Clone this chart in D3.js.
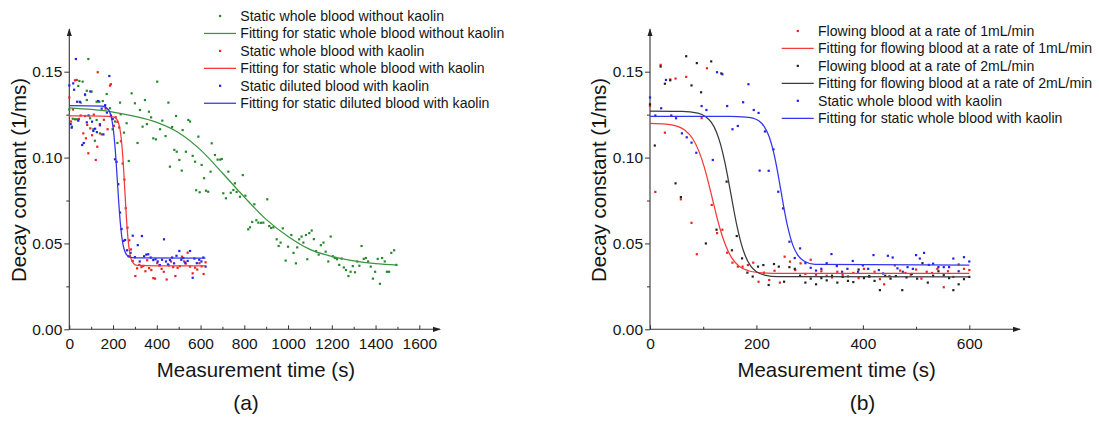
<!DOCTYPE html>
<html>
<head>
<meta charset="utf-8">
<script src="https://cdn.jsdelivr.net/npm/d3@7"></script>
<style>
    body { margin: 0; background: #fff; }
    text { font-family: Arial, "Liberation Sans", sans-serif; fill: #151515; }
</style>
</head>
<body>
<div id="graph"></div>
<script>
// ---- panel (a): measured points [time s, decay constant 1/ms] ----
var wholeNoKaolin = [[0,0.128],[12,0.118],[16,0.1226],[26,0.1223],[34,0.1223],[41,0.1417],[46,0.1446],[52,0.132],[61,0.1442],[72,0.1364],[80,0.1335],[80,0.1389],[87,0.1574],[95,0.1229],[102,0.1384],[110,0.1165],[117,0.1098],[125,0.1219],[125,0.1325],[137,0.1325],[140,0.1141],[153,0.1329],[163,0.130],[171,0.137],[186,0.1287],[198,0.1165],[209,0.121],[220,0.1085],[232,0.132],[235,0.1252],[250,0.1145],[262,0.120],[272,0.098],[285,0.1374],[300,0.1316],[312,0.1085],[323,0.1277],[335,0.118],[346,0.1335],[355,0.1195],[364,0.1267],[374,0.1234],[384,0.1112],[396,0.1106],[402,0.1442],[415,0.1165],[425,0.1215],[440,0.1125],[453,0.132],[460,0.0947],[470,0.1178],[480,0.1045],[488,0.1242],[491,0.1034],[503,0.0986],[514,0.0924],[518,0.116],[533,0.1034],[544,0.1219],[552,0.121],[564,0.101],[575,0.0976],[580,0.081],[590,0.1122],[596,0.0798],[605,0.0957],[616,0.088],[625,0.0807],[635,0.0801],[646,0.0918],[651,0.1083],[666,0.1015],[678,0.0988],[690,0.0988],[697,0.0992],[704,0.0792],[716,0.0763],[727,0.0918],[738,0.0795],[750,0.0811],[757,0.085],[765,0.080],[780,0.0772],[793,0.0898],[805,0.0778],[818,0.0582],[826,0.0594],[836,0.0625],[846,0.0728],[855,0.0635],[864,0.0621],[876,0.062],[887,0.0621],[905,0.0757],[914,0.0601],[923,0.059],[933,0.0594],[948,0.0524],[957,0.0485],[966,0.0505],[976,0.0588],[989,0.040],[1000,0.0481],[1015,0.0549],[1025,0.0445],[1036,0.0384],[1042,0.0477],[1051,0.0524],[1062,0.054],[1070,0.0505],[1082,0.0549],[1088,0.0408],[1097,0.056],[1108,0.0575],[1118,0.0525],[1128,0.0455],[1140,0.0435],[1150,0.049],[1162,0.0505],[1172,0.0452],[1184,0.0395],[1195,0.054],[1205,0.0425],[1214,0.0415],[1224,0.0408],[1234,0.0375],[1245,0.0412],[1255,0.036],[1265,0.0345],[1276,0.031],[1286,0.0335],[1296,0.0368],[1306,0.0332],[1316,0.0395],[1326,0.037],[1336,0.0485],[1346,0.041],[1356,0.0415],[1366,0.0395],[1378,0.0365],[1388,0.0295],[1398,0.0335],[1410,0.041],[1420,0.0265],[1430,0.0415],[1442,0.0395],[1452,0.0335],[1462,0.0335],[1472,0.0445],[1485,0.046],[1495,0.0375]];

var wholeKaolin = [[0,0.135],[8,0.121],[17,0.128],[26,0.145],[34,0.1452],[44,0.1225],[52,0.1245],[64,0.1141],[72,0.1242],[76,0.1112],[82,0.119],[87,0.1025],[96,0.117],[104,0.113],[112,0.125],[121,0.0986],[128,0.1063],[130,0.1497],[140,0.1195],[148,0.1135],[158,0.122],[166,0.1285],[175,0.1165],[186,0.1419],[190,0.1427],[196,0.1225],[204,0.1185],[212,0.1235],[220,0.1208],[228,0.1175],[236,0.1095],[244,0.0965],[252,0.0872],[258,0.0705],[266,0.0592],[274,0.0518],[282,0.0465],[290,0.0398],[302,0.031],[310,0.0355],[320,0.0375],[330,0.0362],[338,0.0369],[348,0.0338],[356,0.0402],[365,0.0356],[375,0.0345],[384,0.0298],[392,0.0295],[402,0.0385],[412,0.0372],[422,0.0352],[432,0.0335],[445,0.029],[455,0.0372],[465,0.0395],[475,0.0362],[485,0.031],[495,0.0358],[505,0.0368],[515,0.0423],[525,0.0395],[532,0.0382],[541,0.0446],[552,0.0365],[564,0.0326],[575,0.0359],[585,0.0348],[595,0.0385],[605,0.0367],[614,0.0322],[623,0.039]];

var dilutedKaolin = [[0,0.142],[6,0.1195],[11,0.1174],[18,0.1432],[22,0.1395],[30,0.1574],[36,0.1325],[41,0.1215],[48,0.1325],[59,0.1073],[66,0.1085],[72,0.1368],[80,0.1205],[88,0.1245],[96,0.1385],[104,0.1209],[110,0.1155],[118,0.1168],[126,0.1148],[132,0.1329],[140,0.1188],[148,0.1285],[156,0.1135],[164,0.1305],[172,0.1262],[183,0.1475],[190,0.1245],[198,0.1225],[209,0.099],[216,0.0975],[224,0.0845],[232,0.068],[239,0.0584],[248,0.0515],[255,0.052],[264,0.046],[272,0.0425],[280,0.0445],[290,0.0545],[300,0.042],[313,0.049],[322,0.0395],[332,0.0543],[342,0.0425],[352,0.0435],[361,0.0437],[372,0.0418],[384,0.0403],[394,0.0408],[404,0.0395],[414,0.0374],[424,0.0405],[433,0.0524],[442,0.0395],[451,0.0378],[460,0.0403],[470,0.0418],[479,0.0384],[490,0.0428],[503,0.0456],[512,0.0405],[521,0.0415],[530,0.0388],[541,0.0398],[552,0.0456],[564,0.030],[572,0.0412],[583,0.0385],[594,0.0405],[604,0.0395],[613,0.0418],[623,0.0365]];

// fitted curves
var wholeNoKaolinFit = [[0,0.129],[100,0.128],[200,0.1265],[300,0.124],[400,0.1205],[500,0.1145],[600,0.1045],[700,0.091],[800,0.077],[900,0.064],[1000,0.054],[1100,0.0465],[1200,0.0425],[1300,0.0398],[1400,0.0382],[1500,0.0374]];
var wholeKaolinFit = [[0,0.1243],[150,0.1242],[200,0.1237],[215,0.1226],[225,0.1201],[232,0.1162],[238,0.1104],[244,0.1015],[249,0.0917],[254,0.0805],[259,0.0693],[264,0.0595],[270,0.0506],[276,0.0448],[283,0.0409],[293,0.0384],[310,0.0372],[400,0.037],[622,0.037]];
var dilutedKaolinFit = [[0,0.1302],[150,0.1299],[180,0.1277],[190,0.1246],[198,0.1195],[204,0.1133],[210,0.1046],[215,0.0956],[220,0.0858],[225,0.0759],[230,0.0669],[236,0.0583],[242,0.052],[250,0.0469],[260,0.0438],[275,0.0421],[300,0.0416],[622,0.0415]];

// ---- panel (b) ----
var flow1 = [[0,0.130],[10,0.080],[20,0.154],[28,0.1145],[38,0.1455],[48,0.146],[58,0.0757],[68,0.147],[78,0.062],[88,0.0437],[97,0.123],[107,0.152],[116,0.0724],[126,0.056],[136,0.058],[145,0.0446],[155,0.0388],[165,0.0365],[174,0.0365],[184,0.0374],[194,0.0388],[204,0.0277],[214,0.033],[224,0.0287],[234,0.0341],[244,0.0272],[253,0.0423],[263,0.0394],[273,0.0345],[283,0.0384],[292,0.0322],[302,0.0405],[312,0.0318],[322,0.0338],[332,0.0312],[342,0.0302],[352,0.0335],[362,0.0318],[372,0.0308],[382,0.0328],[392,0.0298],[402,0.0352],[412,0.0305],[422,0.0335],[432,0.0292],[440,0.0262],[450,0.031],[460,0.0372],[470,0.0342],[480,0.0328],[490,0.0318],[500,0.0348],[510,0.0295],[520,0.0335],[530,0.0328],[540,0.0352],[552,0.0245],[560,0.0338],[570,0.0305],[580,0.0378],[590,0.0352],[600,0.0345]];

var flow2 = [[0,0.131],[9,0.107],[20,0.153],[28,0.143],[38,0.145],[48,0.085],[58,0.077],[68,0.159],[78,0.142],[88,0.155],[96,0.138],[105,0.050],[115,0.156],[125,0.058],[134,0.149],[144,0.086],[154,0.046],[163,0.0543],[173,0.0413],[183,0.033],[193,0.0307],[203,0.0365],[213,0.0374],[223,0.0258],[233,0.038],[242,0.0365],[252,0.0277],[262,0.0362],[272,0.0352],[282,0.0312],[292,0.0272],[302,0.0295],[312,0.0262],[322,0.0298],[332,0.0285],[342,0.0312],[352,0.0272],[362,0.0305],[372,0.0282],[382,0.0275],[392,0.0348],[402,0.0298],[412,0.031],[422,0.0282],[432,0.0228],[442,0.0312],[452,0.0295],[462,0.031],[474,0.0228],[482,0.0302],[492,0.0322],[502,0.0295],[512,0.0385],[522,0.0272],[532,0.0312],[542,0.0338],[552,0.0315],[562,0.0298],[570,0.0228],[580,0.0262],[590,0.0292],[600,0.0305]];

var staticWhole = [[0,0.135],[10,0.1245],[21,0.1287],[30,0.1452],[40,0.1245],[49,0.1229],[60,0.1141],[69,0.1118],[78,0.1087],[87,0.1028],[97,0.130],[106,0.1277],[118,0.0986],[126,0.1497],[136,0.1485],[145,0.130],[155,0.1165],[165,0.1184],[175,0.1322],[185,0.1427],[195,0.1277],[204,0.126],[206,0.0924],[216,0.1152],[223,0.0923],[232,0.1048],[241,0.0801],[250,0.0704],[262,0.051],[272,0.0415],[282,0.0471],[292,0.0385],[302,0.0358],[312,0.0342],[322,0.0352],[332,0.0385],[341,0.0438],[351,0.0368],[361,0.0335],[371,0.0352],[381,0.0398],[391,0.0335],[400,0.0372],[410,0.0352],[420,0.0432],[430,0.0345],[438,0.0325],[447,0.0428],[456,0.0418],[465,0.0355],[475,0.0335],[484,0.0362],[494,0.0352],[500,0.0432],[507,0.0412],[515,0.0445],[524,0.0375],[532,0.0382],[542,0.0362],[552,0.0362],[562,0.0362],[570,0.0412],[580,0.0338],[590,0.042],[600,0.0395]];

var flow1Fit = [[0,0.1199],[30,0.1195],[50,0.1183],[65,0.1161],[80,0.1111],[92,0.1036],[102,0.0944],[110,0.0851],[117,0.0763],[124,0.0674],[132,0.0581],[142,0.0489],[154,0.0414],[168,0.0366],[185,0.0341],[210,0.0329],[250,0.0325],[600,0.0325]];
var flow2Fit = [[0,0.127],[60,0.1269],[90,0.1259],[105,0.1237],[115,0.1206],[125,0.1148],[133,0.1072],[140,0.0982],[146,0.0889],[152,0.0788],[158,0.0686],[164,0.0593],[171,0.0503],[179,0.0428],[189,0.0369],[200,0.0335],[215,0.0316],[240,0.0307],[600,0.0305]];
var staticWholeFit = [[0,0.124],[150,0.124],[180,0.1236],[195,0.1228],[205,0.1213],[215,0.1179],[224,0.1121],[232,0.1034],[239,0.093],[246,0.0807],[253,0.0684],[260,0.058],[268,0.0493],[278,0.043],[290,0.0396],[310,0.0378],[600,0.0374]];

// axis ticks
var yMajor = [0, 0.05, 0.10, 0.15];
var yMinor = [0.025, 0.075, 0.125];
var xMajorA = [0, 200, 400, 600, 800, 1000, 1200, 1400, 1600];
var xMinorA = [100, 300, 500, 700, 900, 1100, 1300, 1500];
var xMajorB = [0, 200, 400, 600];
var xMinorB = [100, 300, 500];

const width = 1099;
const height = 421;
var svg = d3.select("#graph").append("svg")
    .attr("width", width).attr("height", height);

svg.append("defs").append("marker")
    .attr("id", "arrow")
    .attr("viewBox", "0 -3 8 6")
    .attr("refX", 7).attr("refY", 0)
    .attr("markerUnits", "userSpaceOnUse")
    .attr("markerWidth", 8).attr("markerHeight", 6)
    .attr("orient", "auto")
    .append("path")
    .attr("d", "M0,-2.6L8,0L0,2.6Z")
    .attr("fill", "#222");

var panels = [
    {
        left: 69.3, xEnd: 419.3, arrowX: 440, domain: [0, 1600],
        major: xMajorA, minor: xMinorA, label: "(a)", labelX: 246,
        titleX: 256, yTitleX: 25.5,
        legend: {x: 204, y: 16},
        series: [
            {name: "Static whole blood without kaolin", pts: wholeNoKaolin, color: "#23892a"},
            {name: "Fitting for static whole blood without kaolin", fit: wholeNoKaolinFit, color: "#3b9441"},
            {name: "Static whole blood with kaolin", pts: wholeKaolin, color: "#ee2020"},
            {name: "Fitting for static whole blood with kaolin", fit: wholeKaolinFit, color: "#f23a3a"},
            {name: "Static diluted blood with kaolin", pts: dilutedKaolin, color: "#2020e8"},
            {name: "Fitting for static diluted blood with kaolin", fit: dilutedKaolinFit, color: "#3434ee"}
        ]
    },
    {
        left: 650, xEnd: 969.3, arrowX: 1020, domain: [0, 600],
        major: xMajorB, minor: xMinorB, label: "(b)", labelX: 862.5,
        titleX: 836.7, yTitleX: 606.2,
        legend: {x: 781.7, y: 31},
        series: [
            {name: "Flowing blood at a rate of 1mL/min", pts: flow1, color: "#ee2020"},
            {name: "Fitting for flowing blood at a rate of 1mL/min", fit: flow1Fit, color: "#f23a3a"},
            {name: "Flowing blood at a rate of 2mL/min", pts: flow2, color: "#222222"},
            {name: "Fitting for flowing blood at a rate of 2mL/min", fit: flow2Fit, color: "#3a3a3a"},
            {name: "Static whole blood with kaolin", pts: staticWhole, color: "#2020e8"},
            {name: "Fitting for static whole blood with kaolin", fit: staticWholeFit, color: "#3434ee"}
        ]
    }
];

var yBottom = 329.3, yTop = 71.7, yArrow = 29.3;

panels.forEach(function (p) {
    var x = d3.scaleLinear().domain(p.domain).range([p.left, p.xEnd]);
    var y = d3.scaleLinear().domain([0, 0.15]).range([yBottom, yTop]);
    var g = svg.append("g");

    // y axis
    var yAxis = g.append("g").attr("transform", "translate(" + p.left + ",0)")
        .call(d3.axisLeft(y).tickValues(yMajor).tickSize(5).tickPadding(2)
            .tickFormat(d3.format(".2f")));
    g.append("g").attr("transform", "translate(" + p.left + ",0)")
        .call(d3.axisLeft(y).tickValues(yMinor).tickSize(3).tickFormat(""))
        .call(function (s) { s.select(".domain").remove(); });

    // x axis (ticks point up into the plot)
    var xAxis = g.append("g").attr("transform", "translate(0," + yBottom + ")")
        .call(d3.axisBottom(x).tickValues(p.major).tickSize(-4).tickPadding(8.4)
            .tickFormat(d3.format("d")));
    g.append("g").attr("transform", "translate(0," + yBottom + ")")
        .call(d3.axisBottom(x).tickValues(p.minor).tickSize(-2.5).tickFormat(""))
        .call(function (s) { s.select(".domain").remove(); });

    yAxis.select(".domain").remove();
    xAxis.select(".domain").remove();
    g.selectAll(".tick line").attr("stroke", "#333");
    g.selectAll(".tick text").attr("font-size", "15.5px")
        .attr("font-family", "Arial, 'Liberation Sans', sans-serif").attr("fill", "#151515");

    g.append("line").attr("x1", p.left).attr("x2", p.left)
        .attr("y1", yBottom + 0.5).attr("y2", yArrow)
        .attr("stroke", "#333").attr("stroke-width", 1.1).attr("marker-end", "url(#arrow)");
    g.append("line").attr("x1", p.left).attr("x2", p.arrowX)
        .attr("y1", yBottom).attr("y2", yBottom)
        .attr("stroke", "#333").attr("stroke-width", 1.1).attr("marker-end", "url(#arrow)");

    // titles
    g.append("text").attr("x", p.titleX).attr("y", 377)
        .attr("text-anchor", "middle").attr("font-size", "20.4px")
        .text("Measurement time (s)");
    g.append("text").attr("transform", "translate(" + p.yTitleX + ",180) rotate(-90)")
        .attr("text-anchor", "middle").attr("font-size", "20.4px")
        .text("Decay constant (1/ms)");
    g.append("text").attr("x", p.labelX).attr("y", 409.5)
        .attr("text-anchor", "middle").attr("font-size", "21px")
        .text(p.label);

    var line = d3.line()
        .x(function (d) { return x(d[0]); })
        .y(function (d) { return y(d[1]); })
        .curve(d3.curveMonotoneX);

    // points and fitted lines
    p.series.forEach(function (s) {
        if (s.pts) {
            g.append("g").selectAll("rect")
                .data(s.pts)
                .enter()
                .append("rect")
                .attr("x", function (d) { return x(d[0]) - 1.1; })
                .attr("y", function (d) { return y(d[1]) - 1.1; })
                .attr("width", 2.2).attr("height", 2.2)
                .attr("fill", s.color);
        }
    });
    p.series.forEach(function (s) {
        if (s.fit) {
            g.append("path").datum(s.fit)
                .attr("d", line)
                .attr("fill", "none")
                .attr("stroke", s.color)
                .attr("stroke-width", 1.25);
        }
    });

    // legend
    var leg = g.append("g").attr("transform", "translate(" + p.legend.x + "," + p.legend.y + ")");
    p.series.forEach(function (s, i) {
        var row = leg.append("g").attr("transform", "translate(0," + (i * 17.45) + ")");
        if (s.fit) {
            row.append("line").attr("x1", 0).attr("x2", 32).attr("y1", 0).attr("y2", 0)
                .attr("stroke", s.color).attr("stroke-width", 1.25);
        } else {
            row.append("rect").attr("x", 15).attr("y", -1.1)
                .attr("width", 2.2).attr("height", 2.2).attr("fill", s.color);
        }
        row.append("text").attr("x", 36.3).attr("y", 5)
            .attr("font-size", "14.1px")
            .text(s.name);
    });
});
</script>
</body>
</html>
